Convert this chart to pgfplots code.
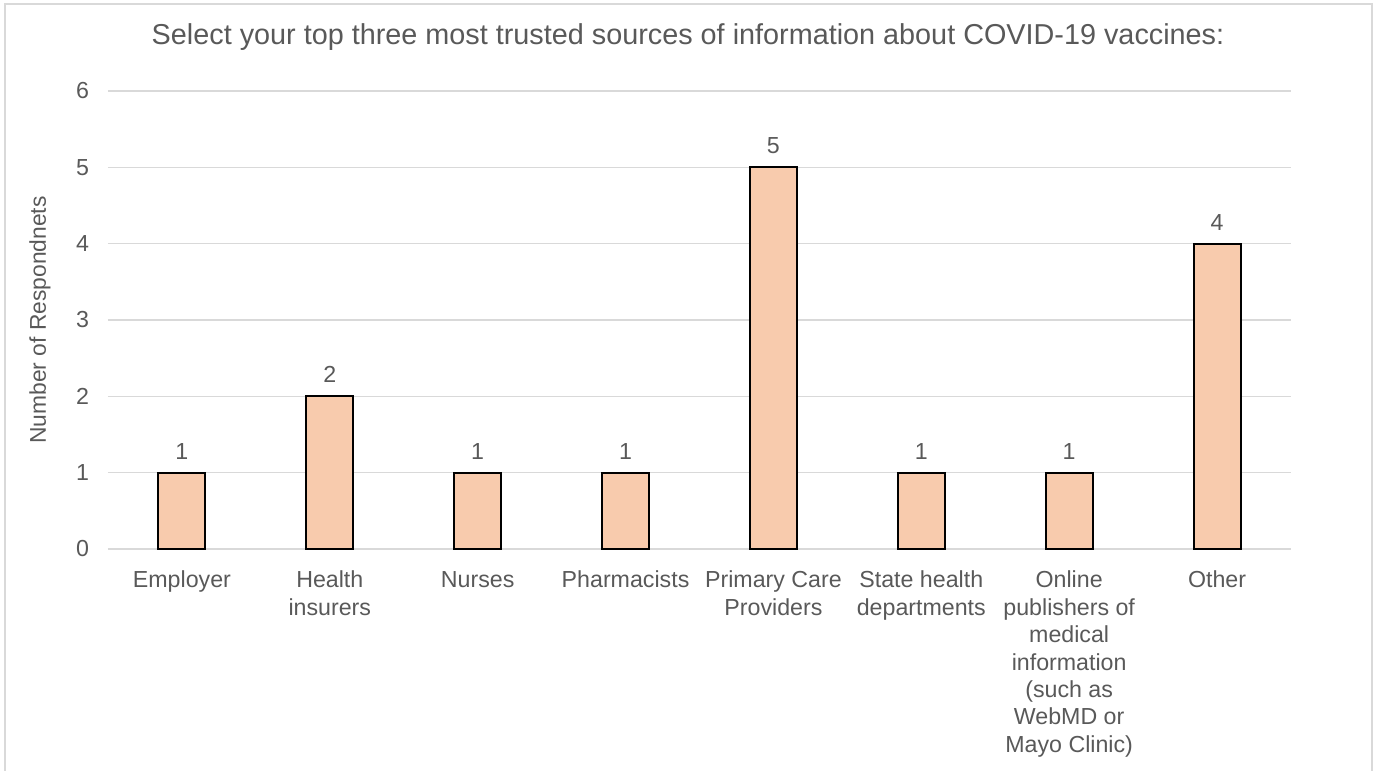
\documentclass[border=0pt]{standalone}
\usepackage{pgfplots}
\pgfplotsset{compat=1.18}
\usepackage{fontspec}
\setmainfont{Liberation Sans}
\definecolor{txt}{HTML}{595959}
\definecolor{gridcol}{HTML}{D9D9D9}
\definecolor{barfill}{HTML}{F8CBAD}
\definecolor{framecol}{HTML}{D9D9D9}
\begin{document}
\begin{tikzpicture}
\useasboundingbox (-54pt,-111pt) rectangle (635pt,274.5pt);
\begin{axis}[
  at={(0,0)}, anchor=south west,
  scale only axis,
  width=591.5pt, height=229pt,
  xmin=-0.5, xmax=7.5,
  ymin=0, ymax=6,
  ytick={0,1,2,3,4,5,6},
  xtick={0,1,2,3,4,5,6,7},
  xticklabels={Employer,Health\\insurers,Nurses,Pharmacists,Primary Care\\Providers,State health\\departments,Online\\publishers of\\medical\\information\\(such as\\WebMD or\\Mayo Clinic),Other},
  xticklabel style={align=center, font=\fontsize{11.6}{13.7}\selectfont, text=txt, anchor=north, yshift=-7.5pt},
  yticklabel style={font=\fontsize{11.6}{13}\selectfont, text=txt, xshift=-6pt},
  /pgf/number format/assume math mode=true,
  axis line style={draw=none},
  major tick length=0pt,
  xmajorgrids=false,
  ymajorgrids=true, grid style={draw=gridcol, line width=0.8pt},
  ylabel={Number of Respondnets},
  every axis y label/.style={at={(-34pt,0.5)}, rotate=90, anchor=center, font=\fontsize{11.4}{12}\selectfont, text=txt},
  nodes near coords,
  nodes near coords style={font=\fontsize{11.6}{12}\selectfont, text=txt, anchor=south, yshift=3pt},
  clip=false,
]
\addplot[ybar, bar width=23.5pt, fill=barfill, draw=black, line width=1pt] coordinates {
(0,1) (1,2) (2,1) (3,1) (4,5) (5,1) (6,1) (7,4)
};
\end{axis}
\node[font=\fontsize{14.4}{16}\selectfont, text=txt] at (290pt,256pt) {Select your top three most trusted sources of information about COVID-19 vaccines:};
\draw[framecol, line width=0.8pt] (-51.5pt,-120pt) -- (-51.5pt,272.5pt) -- (632pt,272.5pt) -- (632pt,-120pt);
\end{tikzpicture}
\end{document}
